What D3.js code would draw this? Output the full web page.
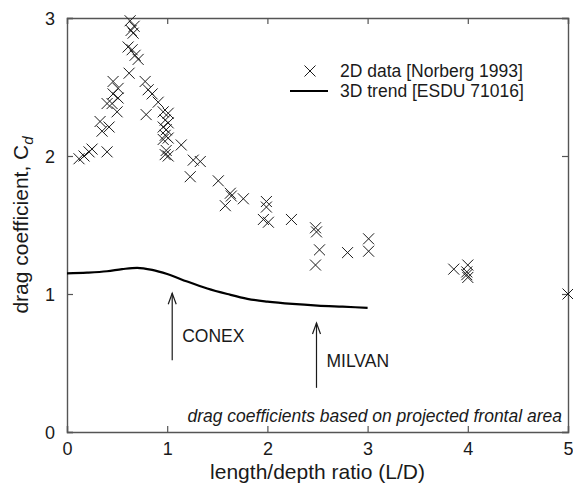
<!DOCTYPE html>
<html>
<head>
<meta charset="utf-8">
<script src="https://cdn.jsdelivr.net/npm/d3@7"></script>
<style>
  html, body { margin: 0; padding: 0; background: #fff; }
  svg { display: block; font-family: "Liberation Sans", Arial, sans-serif; }
</style>
</head>
<body>
<svg id="chart" width="573" height="485"></svg>
<script>
// 2D measurements [Norberg 1993]: length/depth ratio and drag coefficient
const norbergLD = [
  0.12, 0.17, 0.22, 0.25, 0.40, 0.35, 0.33, 0.42, 0.40, 0.45, 0.50, 0.51, 0.46,
  0.46, 0.51, 0.62, 0.61, 0.65, 0.68, 0.71, 0.64, 0.66, 0.67, 0.63,
  0.78, 0.81, 0.79, 0.85, 0.91, 0.96, 1.01, 0.98, 1.01, 0.96, 0.99, 0.98, 1.01,
  0.96, 0.99, 0.98, 1.01, 1.14, 1.26, 1.33, 1.23, 1.51, 1.63, 1.64, 1.58, 1.76,
  1.99, 1.99, 1.96, 2.01, 2.24, 2.48, 2.49, 2.52, 2.48, 2.80, 3.01, 3.01,
  3.86, 4.00, 3.99, 3.99, 4.00, 5.00
];
const norbergCd = [
  1.98, 2.00, 2.03, 2.05, 2.03, 2.18, 2.25, 2.21, 2.38, 2.38, 2.32, 2.42, 2.45,
  2.54, 2.49, 2.60, 2.79, 2.77, 2.73, 2.70, 2.91, 2.89, 2.94, 2.98,
  2.54, 2.48, 2.30, 2.45, 2.39, 2.32, 2.31, 2.26, 2.24, 2.21, 2.19, 2.15, 2.13,
  2.12, 2.04, 2.01, 2.00, 2.08, 1.97, 1.96, 1.85, 1.82, 1.73, 1.71, 1.64, 1.69,
  1.67, 1.63, 1.54, 1.52, 1.54, 1.48, 1.45, 1.32, 1.21, 1.30, 1.40, 1.31,
  1.18, 1.21, 1.16, 1.14, 1.12, 1.00
];

// 3D trend [ESDU 71016]
const trendLD = [0, 0.2, 0.4, 0.55, 0.7, 0.85, 1.0, 1.2, 1.4, 1.6, 1.8, 2.0, 2.25, 2.5, 2.75, 3.0];
const trendCd = [1.15, 1.155, 1.165, 1.18, 1.19, 1.175, 1.145, 1.09, 1.04, 1.0, 0.965, 0.945, 0.928, 0.916, 0.908, 0.9];

// Axis ticks
const xTicks = [0, 1, 2, 3, 4, 5];
const yTicks = [0, 1, 2, 3];

// Container annotations: label, L/D position, arrow from/to Cd
const annoLabels = ["CONEX", "MILVAN"];
const annoLD = [1.05, 2.49];
const annoFrom = [0.52, 0.32];
const annoTo = [1.005, 0.79];

const legendLabels = ["2D data [Norberg 1993]", "3D trend [ESDU 71016]"];
const noteText = "drag coefficients based on projected frontal area";

const W = 573, H = 485;
const margin = { top: 18, right: 5, bottom: 53, left: 67 };
const svg = d3.select("#chart");

const x = d3.scaleLinear().domain([0, 5]).range([margin.left, W - margin.right]);
const y = d3.scaleLinear().domain([0, 3]).range([H - margin.bottom, margin.top]);

const axisColor = "#555";
const inkColor = "#1a1a1a";

// Frame with inward ticks on all four sides
const tickLen = 6;
const gBottom = svg.append("g").attr("transform", `translate(0,${y(0)})`)
  .call(d3.axisBottom(x).tickValues(xTicks).tickSize(-tickLen).tickPadding(10).tickFormat(d3.format("d")));
const gTop = svg.append("g").attr("transform", `translate(0,${y(3)})`)
  .call(d3.axisTop(x).tickValues(xTicks).tickSize(-tickLen).tickFormat(""));
const gLeft = svg.append("g").attr("transform", `translate(${x(0)},0)`)
  .call(d3.axisLeft(y).tickValues(yTicks).tickSize(-tickLen).tickPadding(12).tickFormat(d3.format("d")));
const gRight = svg.append("g").attr("transform", `translate(${x(5)},0)`)
  .call(d3.axisRight(y).tickValues(yTicks).tickSize(-tickLen).tickFormat(""));

[gBottom, gTop, gLeft, gRight].forEach(g => {
  g.select(".domain").attr("stroke", axisColor).attr("stroke-width", 1.4);
  g.selectAll(".tick line").attr("stroke", axisColor).attr("stroke-width", 1.2);
  g.selectAll(".tick text").attr("fill", inkColor).style("font-size", "18px")
    .style("font-family", '"Liberation Sans", Arial, sans-serif');
});
gLeft.selectAll(".tick text").attr("dy", "0.34em");

// Axis titles
svg.append("text")
  .attr("x", (x(0) + x(5)) / 2).attr("y", 479)
  .attr("text-anchor", "middle").attr("fill", inkColor)
  .style("font-size", "21px")
  .text("length/depth ratio (L/D)");

const yTitle = svg.append("text")
  .attr("transform", `translate(28,${(y(0) + y(3)) / 2}) rotate(-90)`)
  .attr("text-anchor", "middle").attr("fill", inkColor)
  .style("font-size", "21px");
yTitle.append("tspan").text("drag coefficient, C");
yTitle.append("tspan").attr("dy", 5).style("font-size", "15px").style("font-style", "italic").text("d");

// Cross marker
const crossPath = s => `M${-s},${-s}L${s},${s}M${-s},${s}L${s},${-s}`;

// 2D data points
svg.append("g").selectAll("path").data(d3.range(norbergLD.length)).join("path")
  .attr("transform", i => `translate(${x(norbergLD[i])},${y(norbergCd[i])})`)
  .attr("d", crossPath(5.5))
  .attr("fill", "none").attr("stroke", inkColor).attr("stroke-width", 1);

// 3D trend line
const trendPts = trendLD.map((d, i) => [d, trendCd[i]]);
svg.append("path")
  .datum(trendPts)
  .attr("d", d3.line().x(d => x(d[0])).y(d => y(d[1])).curve(d3.curveMonotoneX))
  .attr("fill", "none").attr("stroke", "#000").attr("stroke-width", 2.2);

// Annotation arrows and labels
annoLabels.forEach((lab, i) => {
  const ax = x(annoLD[i]), y0 = y(annoFrom[i]), y1 = y(annoTo[i]);
  const g = svg.append("g").attr("stroke", inkColor).attr("stroke-width", 1.2).attr("fill", "none");
  g.append("line").attr("x1", ax).attr("x2", ax).attr("y1", y0).attr("y2", y1);
  g.append("path").attr("d", `M${ax - 4},${y1 + 11}L${ax},${y1}L${ax + 4},${y1 + 11}`);
  svg.append("text")
    .attr("x", ax + 10).attr("y", i === 0 ? 342 : 367)
    .attr("fill", inkColor).style("font-size", "17.5px")
    .text(lab);
});

// Legend
const lg = svg.append("g");
lg.append("path").attr("transform", "translate(310,71)").attr("d", crossPath(5.5))
  .attr("fill", "none").attr("stroke", inkColor).attr("stroke-width", 1);
lg.append("line").attr("x1", 290).attr("x2", 328).attr("y1", 91).attr("y2", 91)
  .attr("stroke", "#000").attr("stroke-width", 2);
legendLabels.forEach((t, i) => {
  lg.append("text").attr("x", 340).attr("y", 77 + i * 20)
    .attr("fill", inkColor).style("font-size", "17.5px").text(t);
});

// Note about reference area
svg.append("text")
  .attr("x", x(5) - 6).attr("y", 422)
  .attr("text-anchor", "end").attr("fill", inkColor)
  .style("font-size", "17.5px").style("font-style", "italic")
  .text(noteText);
</script>
</body>
</html>
